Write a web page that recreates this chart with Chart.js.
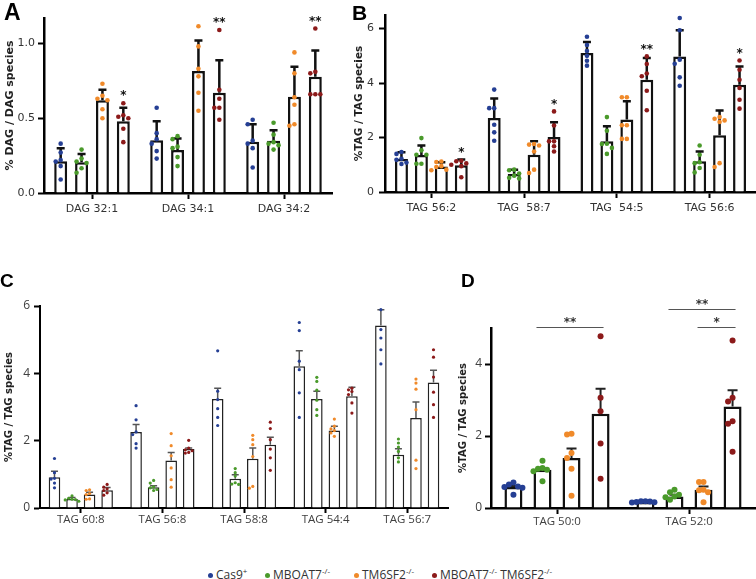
<!DOCTYPE html>
<html>
<head>
<meta charset="utf-8">
<script src="https://cdn.jsdelivr.net/npm/chart.js@4.4.0/dist/chart.umd.min.js"></script>
<style>
  body { margin: 0; background: #fff; width: 756px; height: 579px; overflow: hidden; position: relative; }
  canvas { position: absolute; }
  .letter { position: absolute; font-family: "Liberation Sans", Arial, sans-serif; font-weight: bold; color: #000; line-height: 1; }
  .legend { position: absolute; top: 565px; font-family: "Open Sans", sans-serif; font-size: 12px; color: #333; white-space: nowrap; }
  .legend span.dot { display: inline-block; width: 5px; height: 5px; border-radius: 50%; margin-right: 3px; vertical-align: 1px; }
  .legend sup { font-size: 8px; }
</style>
</head>
<body>
<canvas id="chartA"></canvas>
<canvas id="chartB"></canvas>
<canvas id="chartC"></canvas>
<canvas id="chartD"></canvas>
<div class="letter" style="left:4px;top:1px;font-size:23px">A</div>
<div class="letter" style="left:352px;top:2px;font-size:21px">B</div>
<div class="letter" style="left:0px;top:271px;font-size:19px">C</div>
<div class="letter" style="left:461px;top:271px;font-size:19px">D</div>
<div class="legend" style="left:208px"><span class="dot" style="background:#253f94"></span>Cas9<sup>+</sup></div>
<div class="legend" style="left:265px"><span class="dot" style="background:#4a9a2b"></span>MBOAT7<sup>-/-</sup></div>
<div class="legend" style="left:354px"><span class="dot" style="background:#f08a2a"></span>TM6SF2<sup>-/-</sup></div>
<div class="legend" style="left:432px"><span class="dot" style="background:#8c1a1a"></span>MBOAT7<sup>-/-</sup> TM6SF2<sup>-/-</sup></div>
<script>
const SERIES = ["Cas9+", "MBOAT7-/-", "TM6SF2-/-", "MBOAT7-/- TM6SF2-/-"];
const COLORS = ["#253f94", "#4a9a2b", "#f08a2a", "#8c1a1a"];

// ---- panel A ----
const groupsA = ["DAG 32:1", "DAG 34:1", "DAG 34:2"];
const ticksA = [0, 0.5, 1.0];
const meansA = [
  [0.213, 0.353, 0.342],
  [0.205, 0.287, 0.349],
  [0.620, 0.815, 0.644],
  [0.480, 0.670, 0.778]
];
const errA = [
  [0.087, 0.127, 0.118],
  [0.055, 0.078, 0.071],
  [0.070, 0.205, 0.200],
  [0.090, 0.217, 0.175]
];
const dotsA = [
  [[0.33, 0.27, 0.22, 0.21, 0.18, 0.09], [0.57, 0.40, 0.36, 0.33, 0.28, 0.23], [0.49, 0.46, 0.35, 0.33, 0.30, 0.17]],
  [[0.29, 0.23, 0.21, 0.20, 0.165, 0.135], [0.38, 0.36, 0.31, 0.30, 0.24, 0.18], [0.47, 0.39, 0.34, 0.33, 0.32, 0.29]],
  [[0.73, 0.65, 0.63, 0.62, 0.56, 0.50], [1.115, 0.98, 0.83, 0.78, 0.67, 0.55], [0.94, 0.80, 0.64, 0.59, 0.46, 0.45]],
  [[0.60, 0.52, 0.51, 0.50, 0.43, 0.34], [1.09, 0.69, 0.63, 0.57, 0.57, 0.49], [1.10, 0.81, 0.80, 0.66, 0.66, 0.66]]
];
const starsA = ["*", "**", "**"];

// ---- panel B ----
const groupsB = ["TAG 56:2", "TAG  58:7", "TAG  54:5", "TAG 56:6"];
const ticksB = [0, 2, 4, 6];
const meansB = [
  [1.21, 2.72, 5.10, 4.98],
  [1.36, 0.66, 1.86, 1.13],
  [0.94, 1.37, 2.66, 2.08],
  [0.98, 2.02, 4.12, 3.94]
];
const errB = [
  [0.25, 0.71, 0.41, 0.96],
  [0.35, 0.16, 0.55, 0.36],
  [0.15, 0.49, 0.67, 0.91],
  [0.21, 0.54, 0.80, 0.67]
];
const dotsB = [
  [[1.47, 1.40, 1.22, 1.18, 1.08, 1.03], [3.76, 3.08, 3.08, 2.47, 2.19, 1.88], [5.70, 5.40, 5.18, 5.00, 4.82, 4.64], [6.39, 5.94, 4.86, 4.71, 4.21, 3.90]],
  [[1.98, 1.53, 1.37, 1.37, 1.04, 1.04], [0.82, 0.80, 0.68, 0.60, 0.52, 0.50], [2.75, 2.25, 1.77, 1.76, 1.62, 1.40], [1.71, 1.37, 1.09, 1.06, 0.88, 0.72]],
  [[1.12, 1.10, 0.95, 0.92, 0.82, 0.80], [1.76, 1.74, 1.71, 1.49, 0.82, 0.70], [3.48, 3.48, 2.45, 2.45, 1.95, 1.95], [2.75, 2.69, 2.63, 2.57, 1.06, 0.92]],
  [[1.15, 1.13, 1.05, 1.00, 0.95, 0.54], [2.96, 2.44, 1.86, 1.86, 1.68, 1.49], [4.98, 4.70, 4.35, 4.25, 3.72, 3.00], [4.83, 4.49, 4.12, 3.82, 3.39, 3.06]]
];
const starsB = ["*", "*", "**", "*"];

// ---- panel C ----
const groupsC = ["TAG 60:8", "TAG 56:8", "TAG 58:8", "TAG 54:4", "TAG 56:7"];
const ticksC = [0, 2, 4, 6];
const meansC = [
  [0.91, 2.26, 3.24, 4.21, 5.42],
  [0.27, 0.62, 0.87, 3.24, 1.58],
  [0.40, 1.41, 1.46, 2.30, 2.67],
  [0.53, 1.75, 1.88, 3.32, 3.73]
];
const errC = [
  [0.18, 0.22, 0.32, 0.46, 0.47],
  [0.04, 0.04, 0.12, 0.23, 0.18],
  [0.07, 0.24, 0.32, 0.13, 0.48],
  [0.08, 0.03, 0.22, 0.27, 0.36]
];
const dotsC = [
  [[1.47, 1.05, 0.88, 0.86, 0.74, 0.60], [3.04, 2.62, 2.26, 2.18, 1.91, 1.78], [4.67, 3.47, 3.22, 2.95, 2.69, 2.45], [5.51, 5.27, 4.36, 4.11, 3.42, 2.69], [5.89, 5.30, 5.05, 4.70, 4.28]],
  [[0.36, 0.29, 0.26, 0.25, 0.24, 0.20], [0.82, 0.74, 0.63, 0.60, 0.55, 0.52], [1.17, 1.05, 0.95, 0.75, 0.71, 0.70], [3.88, 3.76, 3.50, 3.20, 2.92, 2.75], [2.05, 1.93, 1.81, 1.68, 1.49, 1.37]],
  [[0.54, 0.52, 0.43, 0.40, 0.27, 0.26], [2.21, 1.85, 1.55, 1.19, 0.84, 0.62], [2.16, 2.03, 1.88, 1.53, 0.64, 0.59], [2.64, 2.43, 2.35, 2.30, 2.23, 2.13], [3.83, 3.71, 3.53, 2.92, 1.42, 1.17]],
  [[0.70, 0.62, 0.57, 0.52, 0.45, 0.38], [2.01, 1.78, 1.73, 1.70, 1.65, 1.63], [2.55, 2.36, 2.03, 1.75, 1.49, 1.12], [3.56, 3.51, 3.46, 3.37, 3.12, 2.82], [4.70, 4.48, 3.89, 3.44, 3.07, 2.69]]
];

// ---- panel D ----
const groupsD = ["TAG 50:0", "TAG 52:0"];
const ticksD = [0, 2, 4];
const meansD = [
  [0.58, 0.17],
  [1.06, 0.32],
  [1.39, 0.51],
  [2.62, 2.82]
];
const errD = [
  [0.03, 0.02],
  [0.04, 0.05],
  [0.26, 0.09],
  [0.69, 0.45]
];
const dotsD = [
  [[0.71, 0.65, 0.60, 0.58, 0.56, 0.37], [0.19, 0.19, 0.18, 0.17, 0.16, 0.15]],
  [[1.31, 1.11, 1.09, 1.06, 1.02, 0.74], [0.51, 0.44, 0.37, 0.32, 0.30, 0.23]],
  [[2.06, 2.04, 1.53, 1.39, 1.09, 0.34], [0.72, 0.72, 0.51, 0.49, 0.44, 0.16]],
  [[4.77, 3.06, 2.69, 1.79, 0.81], [4.65, 3.06, 2.96, 2.41, 2.34, 1.56]]
];
// significance brackets: group, from series, to series, height (data units), label
const bracketsD = [
  { group: 0, from: 1, to: 3, value: 5.03, label: "**" },
  { group: 1, from: 1, to: 3, value: 5.53, label: "**" },
  { group: 1, from: 2, to: 3, value: 5.03, label: "*" }
];

// simple beeswarm so dots with similar values sit side by side
function swarm(vals, cx, yScale, r, gap) {
  const placed = [];
  vals.forEach(v => {
    const py = yScale.getPixelForValue(v);
    let k = 0, px;
    while (true) {
      const off = k === 0 ? 0 : Math.ceil(k / 2) * gap * (k % 2 ? -1 : 1);
      px = cx + off;
      if (!placed.some(p => Math.abs(p[0] - px) < gap * 0.9 && Math.abs(p[1] - py) < 2 * r)) break;
      k++;
    }
    placed.push([px, py]);
  });
  return placed;
}

function makeChart(id, box, area, groups, means, errs, dots, yTicks, yMax, o) {
  const canvas = document.getElementById(id);
  canvas.width = box.w;
  canvas.height = box.h;
  canvas.style.left = box.x + "px";
  canvas.style.top = box.y + "px";

  const extras = {
    id: "extras",
    afterDatasetsDraw(chart) {
      const ctx = chart.ctx;
      const y = chart.scales.y;
      ctx.save();
      chart.data.datasets.forEach((ds, di) => {
        chart.getDatasetMeta(di).data.forEach((bar, i) => {
          const top = y.getPixelForValue(ds.data[i] + errs[di][i]);
          ctx.strokeStyle = o.errColor;
          ctx.lineWidth = o.errWidth;
          ctx.beginPath();
          ctx.moveTo(bar.x, bar.y);
          ctx.lineTo(bar.x, top);
          ctx.moveTo(bar.x - o.capW / 2, top);
          ctx.lineTo(bar.x + o.capW / 2, top);
          ctx.stroke();
        });
      });
      chart.data.datasets.forEach((ds, di) => {
        chart.getDatasetMeta(di).data.forEach((bar, i) => {
          ctx.fillStyle = COLORS[di];
          swarm(dots[di][i], bar.x, y, o.r, o.gap).forEach(p => {
            ctx.beginPath();
            ctx.arc(p[0], p[1], o.r, 0, Math.PI * 2);
            ctx.fill();
          });
        });
      });
      // stars above the double-knockout series
      if (o.stars) {
        const last = chart.data.datasets.length - 1;
        ctx.fillStyle = "#111";
        ctx.font = "bold 12px 'DejaVu Sans'";
        ctx.textAlign = "center";
        ctx.textBaseline = "middle";
        chart.getDatasetMeta(last).data.forEach((bar, i) => {
          const hi = Math.max(...dots[last][i], means[last][i] + errs[last][i]);
          ctx.fillText(o.stars[i], bar.x, y.getPixelForValue(hi) - 7);
        });
      }
      if (o.brackets) {
        ctx.strokeStyle = "#555";
        ctx.lineWidth = 1;
        ctx.fillStyle = "#333";
        ctx.font = "bold 12px 'DejaVu Sans'";
        ctx.textAlign = "center";
        ctx.textBaseline = "middle";
        o.brackets.forEach(b => {
          const x0 = chart.getDatasetMeta(b.from).data[b.group].x - 6;
          const x1 = chart.getDatasetMeta(b.to).data[b.group].x + 3;
          const py = Math.round(y.getPixelForValue(b.value)) + 0.5;
          ctx.beginPath();
          ctx.moveTo(x0, py);
          ctx.lineTo(x1, py);
          ctx.stroke();
          ctx.fillText(b.label, (x0 + x1) / 2, py - 5);
        });
      }
      ctx.restore();
    }
  };

  return new Chart(canvas, {
    type: "bar",
    data: {
      labels: groups,
      datasets: means.map((m, i) => ({
        label: SERIES[i],
        data: m,
        backgroundColor: "#fff",
        borderColor: o.barEdge,
        borderWidth: o.barBorder,
        categoryPercentage: o.cat,
        barPercentage: o.bar
      }))
    },
    options: {
      responsive: false,
      animation: false,
      events: [],
      layout: { padding: { top: area.y0 - box.y, right: box.x + box.w - area.x1, left: 0, bottom: 0 } },
      plugins: { legend: { display: false }, tooltip: { enabled: false } },
      scales: {
        x: {
          grid: { offset: false, drawOnChartArea: false, tickLength: o.xTick, tickColor: "#000", tickWidth: 2 },
          border: { color: "#000", width: o.axisW },
          ticks: { color: o.tickColor, font: o.xFont, padding: o.xPad, maxRotation: 0, autoSkip: false },
          afterFit: s => { s.height = box.y + box.h - area.y1; }
        },
        y: {
          min: 0,
          max: yMax,
          afterBuildTicks: s => { s.ticks = yTicks.map(v => ({ value: v })); },
          grid: { drawOnChartArea: false, tickLength: 6, tickColor: "#000", tickWidth: 2 },
          border: { color: "#000", width: o.axisW },
          ticks: { color: o.tickColor, font: o.yFont, padding: o.yPad, callback: v => o.fmt(v) },
          title: { display: true, text: o.title, color: "#222", font: o.titleFont, padding: { top: o.titlePad, bottom: 0 } },
          afterFit: s => { s.width = area.x0 - box.x; }
        }
      }
    },
    plugins: [extras]
  });
}

const fontAB = "'DejaVu Sans'";
const fontCD = "'Open Sans'";

makeChart("chartA", { x: 0, y: 0, w: 340, h: 235 }, { x0: 44, y0: 18, x1: 332, y1: 193 },
  groupsA, meansA, errA, dotsA, ticksA, 1.17, {
    barEdge: "#111", barBorder: 2.5, cat: 0.87, bar: 0.62, axisW: 2.5,
    xTick: 6, xPad: 4, tickColor: "#333",
    xFont: { family: fontAB, size: 11 }, yFont: { family: fontAB, size: 11 }, yPad: 3,
    fmt: v => v.toFixed(1), title: "% DAG / DAG species",
    titleFont: { family: fontAB, size: 11, weight: "bold" }, titlePad: 3.5,
    errColor: "#111", errWidth: 2.5, capW: 8, r: 2.3, gap: 5, stars: starsA
  });

makeChart("chartB", { x: 348, y: 0, w: 408, h: 235 }, { x0: 385, y0: 15, x1: 756, y1: 192 },
  groupsB, meansB, errB, dotsB, ticksB, 6.5, {
    barEdge: "#111", barBorder: 2.5, cat: 0.86, bar: 0.65, axisW: 2.5,
    xTick: 6, xPad: 4, tickColor: "#333",
    xFont: { family: fontAB, size: 11 }, yFont: { family: fontAB, size: 11 }, yPad: 5,
    fmt: v => String(v), title: "%TAG / TAG species",
    titleFont: { family: fontAB, size: 10.5, weight: "bold" }, titlePad: 4.7,
    errColor: "#111", errWidth: 2.5, capW: 8, r: 2.3, gap: 5, stars: starsB
  });

makeChart("chartC", { x: 0, y: 290, w: 452, h: 248 }, { x0: 40, y0: 306, x1: 448, y1: 508 },
  groupsC, meansC, errC, dotsC, ticksC, 6, {
    barEdge: "#222", barBorder: 1.5, cat: 0.86, bar: 0.66, axisW: 2,
    xTick: 5, xPad: 0, tickColor: "#404040",
    xFont: { family: fontCD, size: 11.5 }, yFont: { family: fontCD, size: 12 }, yPad: 4,
    fmt: v => String(v), title: "%TAG / TAG species",
    titleFont: { family: fontAB, size: 10, weight: "bold" }, titlePad: 3,
    errColor: "#555", errWidth: 1.5, capW: 7, r: 1.6, gap: 3.4
  });

makeChart("chartD", { x: 452, y: 290, w: 304, h: 248 }, { x0: 491, y0: 328, x1: 755, y1: 508 },
  groupsD, meansD, errD, dotsD, ticksD, 5, {
    barEdge: "#111", barBorder: 2.5, cat: 0.88, bar: 0.62, axisW: 2.5,
    xTick: 6, xPad: 1, tickColor: "#404040",
    xFont: { family: fontCD, size: 11.5 }, yFont: { family: fontCD, size: 12 }, yPad: 3,
    fmt: v => String(v), title: "%TAG / TAG species",
    titleFont: { family: fontAB, size: 10, weight: "bold" }, titlePad: 5,
    errColor: "#222", errWidth: 2, capW: 10, r: 3, gap: 4.5, brackets: bracketsD
  });
</script>
</body>
</html>
